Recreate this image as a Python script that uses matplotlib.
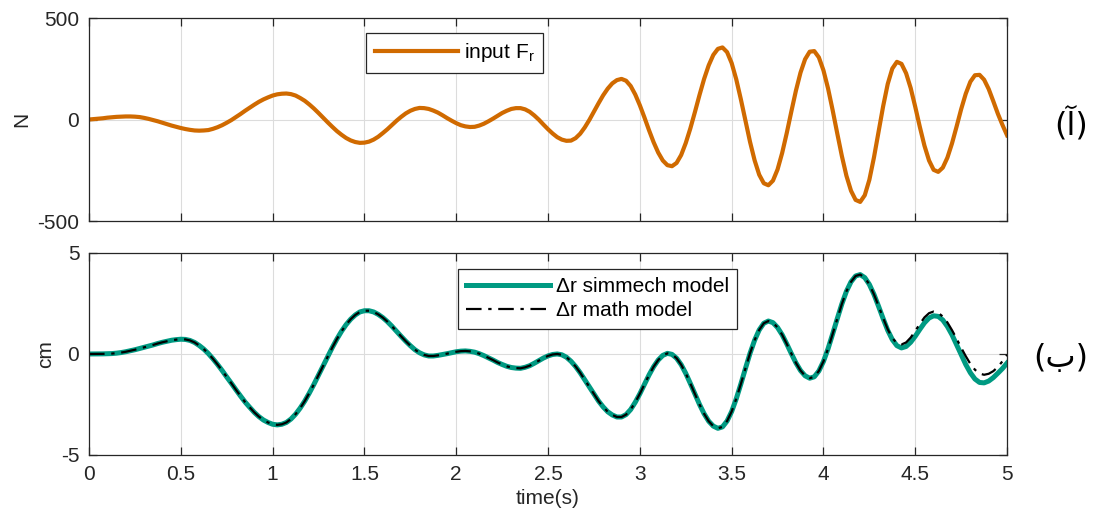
import numpy as np
import matplotlib
matplotlib.use('Agg')
import matplotlib.pyplot as plt

plt.rcParams['font.family'] = ['Liberation Sans', 'DejaVu Sans']
plt.rcParams['font.size'] = 15
plt.rcParams['axes.unicode_minus'] = False

# sampled every 0.025 s, 0..5 s
time_s = np.linspace(0, 5, 201)

# input force F_r (N), 8 samples per row (0.2 s)
force_n = [
    0, 2, 4, 6, 9, 11, 13, 14,
    15, 15, 14, 12, 8, 3, -3, -9,
    -16, -23, -30, -36, -42, -47, -51, -54,
    -55, -54, -52, -46, -38, -28, -16, -3,
    12, 27, 43, 58, 73, 87, 99, 109,
    118, 124, 127, 128, 125, 118, 106, 92,
    74, 54, 32, 9, -14, -36, -57, -75,
    -91, -103, -111, -115, -114, -109, -99, -85,
    -67, -48, -27, -6, 13, 30, 43, 52,
    57, 56, 52, 44, 34, 21, 7, -6,
    -18, -28, -34, -37, -36, -30, -21, -9,
    4, 18, 32, 43, 52, 56, 56, 50,
    38, 20, -1, -25, -48, -69, -87, -99,
    -105, -104, -92, -70, -39, -2, 39, 80,
    119, 152, 178, 194, 200, 191, 165, 123,
    70, 10, -53, -112, -163, -202, -225, -230,
    -214, -175, -116, -44, 37, 121, 200, 267,
    318, 348, 355, 332, 278, 198, 100, -6,
    -110, -201, -272, -314, -324, -301, -246, -165,
    -67, 39, 142, 231, 297, 334, 337, 306,
    242, 153, 46, -68, -179, -277, -351, -396,
    -406, -373, -297, -187, -61, 65, 175, 251,
    284, 274, 228, 155, 62, -37, -129, -202,
    -248, -258, -237, -188, -118, -35, 51, 127,
    186, 218, 220, 196, 150, 90, 28, -27,
    -78,
]

# delta r, simmech model (cm)
dr_simmech = [
    0, 0, 0, 0.005, 0.01, 0.02, 0.04, 0.07,
    0.11, 0.16, 0.21, 0.27, 0.33, 0.39, 0.45, 0.52,
    0.58, 0.63, 0.68, 0.71, 0.73, 0.72, 0.67, 0.57,
    0.42, 0.24, 0.02, -0.24, -0.52, -0.82, -1.14, -1.45,
    -1.77, -2.08, -2.38, -2.64, -2.89, -3.10, -3.27, -3.39,
    -3.48, -3.51, -3.48, -3.39, -3.22, -2.98, -2.68, -2.33,
    -1.93, -1.50, -1.05, -0.59, -0.13, 0.32, 0.74, 1.12,
    1.45, 1.72, 1.93, 2.08, 2.14, 2.14, 2.08, 1.96,
    1.80, 1.60, 1.37, 1.12, 0.87, 0.63, 0.41, 0.21,
    0.06, -0.045, -0.10, -0.10, -0.07, -0.03, 0.015, 0.065,
    0.11, 0.14, 0.15, 0.13, 0.09, 0.015, -0.08, -0.19,
    -0.30, -0.42, -0.52, -0.61, -0.67, -0.70, -0.71, -0.66,
    -0.58, -0.46, -0.33, -0.20, -0.095, -0.025, 0.0, -0.04,
    -0.16, -0.36, -0.62, -0.93, -1.28, -1.64, -1.99, -2.33,
    -2.62, -2.86, -3.02, -3.12, -3.12, -3.00, -2.75, -2.39,
    -1.97, -1.50, -1.04, -0.63, -0.30, -0.07, 0.03, -0.02,
    -0.21, -0.53, -0.96, -1.46, -1.98, -2.50, -2.96, -3.33,
    -3.57, -3.68, -3.61, -3.32, -2.85, -2.22, -1.49, -0.72,
    0.03, 0.68, 1.19, 1.52, 1.63, 1.55, 1.31, 0.95,
    0.50, 0.02, -0.44, -0.82, -1.08, -1.20, -1.13, -0.84,
    -0.37, 0.26, 0.99, 1.74, 2.47, 3.10, 3.57, 3.86,
    3.93, 3.78, 3.44, 2.95, 2.36, 1.75, 1.17, 0.71,
    0.41, 0.30, 0.37, 0.58, 0.88, 1.22, 1.54, 1.78,
    1.89, 1.86, 1.68, 1.36, 0.95, 0.46, -0.04, -0.52,
    -0.93, -1.24, -1.41, -1.43, -1.34, -1.17, -0.95, -0.72,
    -0.45,
]

# math model follows simmech up to 4.3 s, then drifts
split_idx = 172
dr_math_tail = [
    2.38, 1.78, 1.22, 0.79, 0.53, 0.47, 0.57, 0.81,
    1.14, 1.49, 1.81, 2.02, 2.10, 2.04, 1.85, 1.56,
    1.18, 0.76, 0.31, -0.11, -0.49, -0.78, -0.97, -1.03,
    -0.98, -0.85, -0.64, -0.36, -0.05,
]
dr_math = dr_simmech[:split_idx] + dr_math_tail

x_ticks = np.arange(0, 5.01, 0.5)
x_labels = ['0', '0.5', '1', '1.5', '2', '2.5', '3', '3.5', '4', '4.5', '5']

orange = '#D06A00'
teal = '#009A82'
edge = '#262626'

fig = plt.figure(figsize=(10.95, 5.13), dpi=100)
ax1 = fig.add_axes([0.0813, 0.5692, 0.8384, 0.3957])
ax2 = fig.add_axes([0.0813, 0.1131, 0.8384, 0.3938])

ax1.plot(time_s, force_n, color=orange, lw=3.0, solid_joinstyle='round',
         label='input F$_\\mathregular{r}$')
ax2.plot(time_s, dr_simmech, color=teal, lw=3.6, solid_joinstyle='round',
         label='\u0394r simmech model')
ax2.plot(time_s, dr_math, color='black', lw=1.6, ls=(0, (7, 3, 1.5, 3)),
         label='\u0394r math model')

ax1.set_ylim(-500, 500)
ax1.set_yticks([-500, 0, 500])
ax2.set_ylim(-5, 5)
ax2.set_yticks([-5, 0, 5])
for ax in (ax1, ax2):
    ax.set_xlim(0, 5)
    ax.set_xticks(x_ticks)
    ax.grid(True, color='#dcdcdc', lw=0.8)
    ax.set_axisbelow(True)
    ax.tick_params(direction='in', length=5.5, width=0.9, colors=edge,
                   top=True, right=True, labelsize=15, pad=7)
    for s in ax.spines.values():
        s.set_color(edge)
        s.set_linewidth(0.9)
ax1.set_xticklabels([])
ax2.set_xticklabels(x_labels)

ax1.set_ylabel('N', color=edge)
ax2.set_ylabel('cm', color=edge)
ax2.set_xlabel('time(s)', color=edge, labelpad=4)

leg1 = ax1.legend(loc='upper left', bbox_to_anchor=(0.302, 0.926), borderaxespad=0,
                  fancybox=False, framealpha=1, edgecolor=edge, handlelength=4.0,
                  handletextpad=0.3, fontsize=15)
leg1.get_frame().set_linewidth(0.9)
leg2 = ax2.legend(loc='upper left', bbox_to_anchor=(0.402, 0.921), borderaxespad=0,
                  fancybox=False, framealpha=1, edgecolor=edge, handlelength=4.0,
                  handletextpad=0.3, fontsize=15, labelspacing=0.25)
leg2.get_frame().set_linewidth(0.9)

fig.text(1088 / 1095, 1 - 124 / 513, '(\u0622)', family=['DejaVu Sans'], fontsize=23,
         ha='right', va='center')
fig.text(1088 / 1095, 1 - 358 / 513, '(\u0628)', family=['DejaVu Sans'], fontsize=23,
         ha='right', va='center')

fig.savefig('out.png', dpi=100)
